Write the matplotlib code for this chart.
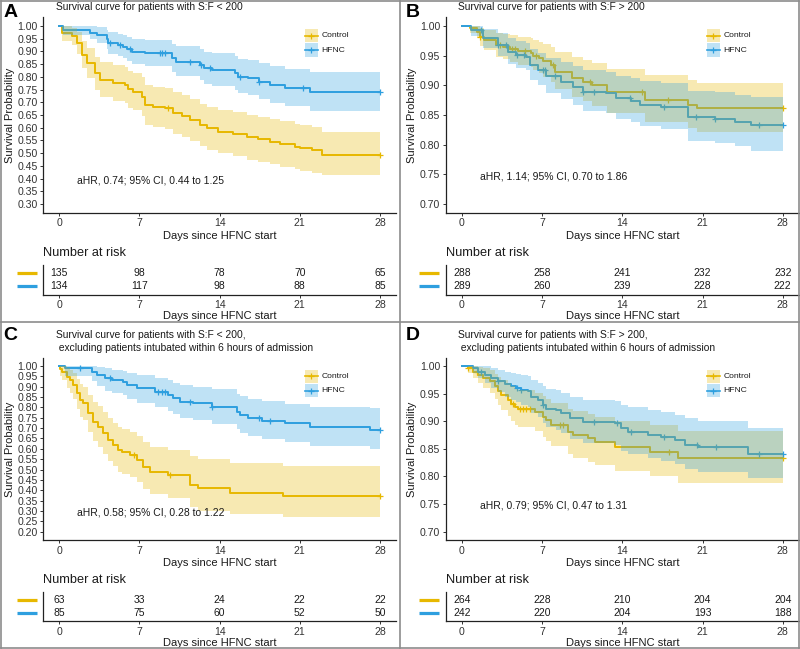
import numpy as np
import matplotlib
matplotlib.use('Agg')
import matplotlib.pyplot as plt
from matplotlib.lines import Line2D
from matplotlib.patches import Rectangle

plt.rcParams['font.family'] = ['Liberation Sans', 'DejaVu Sans']

# ---------------- data ----------------
days = [0, 7, 14, 21, 28]
groups = ['Control', 'HFNC']

# Panel A: S:F < 200
a_ctrl_t = [0, 0.2, 1.08, 1.51, 1.95, 2.39, 3.11, 3.55, 4.71, 5.73, 6.02, 6.46, 7.19, 7.48, 8.21, 9.23, 9.95,
            10.68, 11.41, 12.28, 12.86, 13.88, 15.19, 16.36, 17.37, 18.39, 19.27, 20.58, 21.01, 22.03, 22.9]
a_ctrl_s = [1, .971, .960, .932, .886, .853, .814, .788, .775, .768, .751, .742, .722, .689, .683, .676, .657,
            .646, .630, .611, .598, .585, .575, .562, .554, .545, .536, .526, .519, .512, .493]
a_ctrl_lo = [1, .942, .927, .890, .833, .794, .748, .719, .704, .697, .678, .668, .646, .611, .604, .596, .576,
             .564, .547, .527, .513, .499, .488, .474, .466, .456, .447, .436, .429, .421, .413]
a_ctrl_hi = [1, 1, .993, .975, .940, .913, .880, .858, .846, .840, .825, .817, .798, .768, .762, .756, .739,
             .728, .714, .695, .683, .671, .662, .650, .643, .634, .626, .616, .610, .603, .584]
a_ctrl_cens = [9.5, 28]

a_hfnc_t = [0, 0.35, 2.68, 3.26, 4.13, 4.28, 5.15, 5.59, 5.88, 6.32, 7.48, 9.8, 10.2, 12.3, 12.6, 13.3,
            15.3, 15.6, 16.5, 17.4, 18.4, 19.7, 21.9]
a_hfnc_s = [1, .984, .974, .965, .948, .932, .925, .918, .908, .899, .892, .873, .860, .847, .834, .827,
            .814, .801, .794, .781, .768, .755, .740]
a_hfnc_lo = [1, .963, .947, .934, .911, .891, .882, .873, .861, .850, .841, .818, .803, .788, .773, .765,
             .750, .736, .728, .714, .699, .685, .667]
a_hfnc_hi = [1, 1, 1, .996, .986, .975, .969, .964, .957, .950, .945, .931, .920, .910, .899, .893,
             .882, .871, .865, .854, .843, .832, .820]
a_hfnc_cens = [4.4, 5.3, 6.2, 8.8, 8.95, 9.2, 11.4, 12.4, 13.2, 15.8, 17.4, 21.3, 28]

# Panel B: S:F > 200
b_ctrl_t = [0, 0.7, 1.3, 1.6, 1.9, 3.0, 3.6, 4.2, 4.9, 6.0, 6.2, 6.7, 7.1, 7.8, 8.1, 9.6, 10.6, 11.4, 12.7, 16.0, 19.7, 20.5]
b_ctrl_s = [1, .996, .990, .982, .976, .968, .965, .962, .958, .955, .950, .946, .941, .934, .923, .912, .906, .900, .889, .876, .867, .862]
b_ctrl_lo = [1, .989, .979, .967, .959, .948, .944, .940, .935, .931, .925, .920, .914, .906, .893, .880, .873, .866, .853, .838, .828, .822]
b_ctrl_hi = [1, 1, 1, .997, .993, .988, .986, .984, .982, .980, .976, .973, .969, .964, .956, .947, .942, .937, .928, .917, .909, .904]
b_ctrl_cens = [1.6, 3.3, 4.4, 4.65, 5.5, 6.5, 8.0, 11.2, 15.7, 18.0, 28]

b_hfnc_t = [0, 0.84, 1.86, 3.17, 4.04, 4.77, 5.64, 5.93, 6.66, 7.39, 8.69, 9.71, 10.58, 12.62, 13.49, 14.8, 15.53, 17.42, 19.74, 22.07, 23.8, 25.27]
b_hfnc_s = [1, .993, .979, .968, .957, .951, .948, .934, .926, .915, .906, .898, .889, .887, .878, .874, .867, .863, .847, .844, .839, .833]
b_hfnc_lo = [1, .983, .963, .949, .936, .929, .925, .909, .900, .887, .877, .867, .857, .854, .844, .839, .831, .826, .807, .803, .797, .790]
b_hfnc_hi = [1, 1, .995, .988, .980, .975, .972, .962, .955, .946, .939, .932, .925, .923, .916, .913, .907, .904, .891, .888, .884, .880]
b_hfnc_cens = [1.7, 3.2, 3.9, 4.8, 5.4, 7.1, 7.3, 8.1, 10.6, 11.5, 14.7, 17.6, 20.4, 22.1, 25.9, 28]

# Panel C: S:F < 200, excluding early intubation
c_ctrl_t = [0, 0.1, 0.2, 0.64, 0.93, 1.22, 1.51, 1.8, 2.1, 2.53, 2.97, 3.4, 3.84, 4.28, 4.71, 5.15, 5.44, 6.17,
            6.75, 7.33, 7.92, 9.52, 11.41, 12.14, 14.9, 19.56]
c_ctrl_s = [1, .984, .973, .948, .932, .908, .868, .836, .820, .771, .731, .707, .675, .643, .618, .594, .586, .570,
            .546, .514, .490, .473, .425, .409, .388, .372]
c_ctrl_lo = [1, .950, .930, .895, .872, .842, .794, .756, .738, .682, .637, .611, .576, .541, .515, .490, .481, .464,
             .439, .406, .382, .364, .318, .302, .284, .270]
c_ctrl_hi = [1, 1, 1, .990, .980, .964, .935, .912, .899, .860, .827, .806, .778, .749, .727, .705, .698, .683,
             .662, .633, .611, .596, .565, .550, .530, .515]
c_ctrl_cens = [6.5, 9.7, 28]

c_hfnc_t = [0, 0.49, 2.82, 3.26, 3.99, 4.57, 5.59, 5.88, 6.75, 8.35, 9.52, 9.95, 10.54, 11.7, 13.3, 15.48, 15.77,
            16.5, 17.67, 19.7, 21.9, 27.1]
c_hfnc_s = [1, .988, .973, .957, .940, .932, .924, .908, .892, .876, .860, .844, .828, .820, .804, .779, .763,
            .747, .736, .723, .707, .693]
c_hfnc_lo = [1, .950, .927, .903, .880, .870, .860, .840, .822, .803, .785, .767, .749, .740, .722, .694, .677,
             .660, .648, .633, .615, .600]
c_hfnc_hi = [1, 1, 1, .995, .988, .983, .978, .967, .956, .944, .932, .920, .907, .900, .887, .867, .853,
             .839, .829, .818, .804, .797]
c_hfnc_cens = [1.8, 4.4, 8.64, 8.93, 9.2, 11.4, 13.3, 17.4, 18.4, 28]

# Panel D: S:F > 200, excluding early intubation
d_ctrl_t = [0, 0.55, 0.99, 1.42, 1.86, 2.44, 2.88, 3.17, 3.46, 4.04, 4.33, 4.62, 4.91, 6.37, 7.1, 7.39, 7.82,
            9.28, 9.71, 11.02, 11.6, 13.35, 16.4, 18.87]
d_ctrl_s = [1, .996, .990, .984, .978, .972, .963, .954, .947, .938, .932, .926, .922, .917, .908, .902, .893,
            .881, .875, .869, .863, .854, .845, .834]
d_ctrl_lo = [1, .988, .978, .969, .960, .952, .940, .929, .920, .909, .901, .894, .889, .883, .872, .865, .855,
             .841, .834, .827, .820, .810, .800, .789]
d_ctrl_hi = [1, 1, 1, .999, .996, .992, .986, .980, .975, .969, .964, .959, .956, .952, .945, .940, .933,
             .923, .918, .913, .908, .901, .893, .882]
d_ctrl_cens = [0.55, 1.3, 4.5, 5.06, 5.35, 5.64, 5.93, 8.55, 8.84, 18.1, 28]

d_hfnc_t = [0, 0.99, 1.42, 2.0, 2.59, 3.17, 3.75, 4.33, 4.77, 5.2, 5.79, 6.08, 6.66, 7.1, 7.39, 8.26, 8.69, 9.42,
            10.58, 13.35, 13.93, 14.51, 16.25, 17.42, 18.58, 19.45, 20.62, 25.0]
d_hfnc_s = [1, .996, .990, .984, .978, .973, .967, .963, .960, .957, .954, .944, .938, .929, .923, .920, .914, .905,
            .899, .896, .887, .881, .875, .871, .866, .857, .853, .841]
d_hfnc_lo = [1, .988, .978, .969, .960, .953, .944, .938, .934, .930, .926, .914, .907, .896, .889, .885, .878, .868,
             .861, .857, .847, .840, .833, .828, .823, .813, .808, .797]
d_hfnc_hi = [1, 1, 1, 1, .996, .993, .990, .987, .985, .983, .981, .974, .970, .963, .958, .956, .951, .944,
             .939, .937, .929, .925, .920, .917, .912, .905, .901, .887]
d_hfnc_cens = [1.7, 3.2, 4.8, 5.2, 7.1, 11.5, 13.5, 14.8, 17.6, 20.5, 22.2, 25.9, 28]

risk_a_ctrl = [135, 98, 78, 70, 65]
risk_a_hfnc = [134, 117, 98, 88, 85]
risk_b_ctrl = [288, 258, 241, 232, 232]
risk_b_hfnc = [289, 260, 239, 228, 222]
risk_c_ctrl = [63, 33, 24, 22, 22]
risk_c_hfnc = [85, 75, 60, 52, 50]
risk_d_ctrl = [264, 228, 210, 204, 204]
risk_d_hfnc = [242, 220, 204, 193, 188]

titles = ['Survival curve for patients with S:F < 200',
          'Survival curve for patients with S:F > 200',
          'Survival curve for patients with S:F < 200,\n excluding patients intubated within 6 hours of admission',
          'Survival curve for patients with S:F > 200,\n excluding patients intubated within 6 hours of admission']
hr_texts = ['aHR, 0.74; 95% CI, 0.44 to 1.25', 'aHR, 1.14; 95% CI, 0.70 to 1.86',
            'aHR, 0.58; 95% CI, 0.28 to 1.22', 'aHR, 0.79; 95% CI, 0.47 to 1.31']
letters = ['A', 'B', 'C', 'D']

# ---------------- styling ----------------
COL = {'Control': '#E7B800', 'HFNC': '#2E9FDF'}
W, H = 800, 649
fig = plt.figure(figsize=(8, 6.49), dpi=100)
TXT = '#1a1a1a'
TICKC = '#333333'
FS_TICK = 7.6
FS_LAB = 8.0


def rect(l, t, r, b):
    return [l / W, 1 - b / H, (r - l) / W, (b - t) / H]


def fx(x):
    return x / W


def fy(y):
    return 1 - y / H


def draw_curve(ax, t, s, lo, hi, cens, color):
    t = np.asarray(t, float)
    s = np.asarray(s, float)
    t2 = np.append(t, 28.0)
    s2 = np.append(s, s[-1])
    lo2 = np.append(lo, lo[-1])
    hi2 = np.append(hi, hi[-1])
    ax.step(t2, s2, where='post', color=color, lw=1.4, zorder=2)
    idx = np.searchsorted(t, cens, side='right') - 1
    ax.plot(cens, s[idx], ls='none', marker='+', ms=5, mew=0.9, color=color, zorder=2)
    ax.fill_between(t2, lo2, hi2, step='post', color=color, alpha=0.3, lw=0, zorder=3)


def style_axes(ax):
    for sp in ['top', 'right']:
        ax.spines[sp].set_visible(False)
    for sp in ['left', 'bottom']:
        ax.spines[sp].set_linewidth(0.9)
        ax.spines[sp].set_color('#222222')
    ax.tick_params(axis='both', labelsize=FS_TICK, colors=TICKC, length=2.5, width=0.7, pad=1.5)
    ax.set_facecolor('none')


panels = [
    dict(l=43.3, r=396, t=17.1, b=212.9, tb_t=265, tb_b=294.5, ylim=(0.30, 1.00),
         ctrl=(a_ctrl_t, a_ctrl_s, a_ctrl_lo, a_ctrl_hi, a_ctrl_cens),
         hfnc=(a_hfnc_t, a_hfnc_s, a_hfnc_lo, a_hfnc_hi, a_hfnc_cens),
         risk=(risk_a_ctrl, risk_a_hfnc), hr_y=0.393, ox=0, oy=0),
    dict(l=445.7, r=798.8, t=17.1, b=212.9, tb_t=265, tb_b=294.5, ylim=(0.70, 1.00),
         ctrl=(b_ctrl_t, b_ctrl_s, b_ctrl_lo, b_ctrl_hi, b_ctrl_cens),
         hfnc=(b_hfnc_t, b_hfnc_s, b_hfnc_lo, b_hfnc_hi, b_hfnc_cens),
         risk=(risk_b_ctrl, risk_b_hfnc), hr_y=0.746, ox=402, oy=0),
    dict(l=43.3, r=396, t=357.7, b=540, tb_t=591.7, tb_b=621, ylim=(0.20, 1.00),
         ctrl=(c_ctrl_t, c_ctrl_s, c_ctrl_lo, c_ctrl_hi, c_ctrl_cens),
         hfnc=(c_hfnc_t, c_hfnc_s, c_hfnc_lo, c_hfnc_hi, c_hfnc_cens),
         risk=(risk_c_ctrl, risk_c_hfnc), hr_y=0.293, ox=0, oy=323.5),
    dict(l=445.7, r=798.8, t=357.7, b=540, tb_t=591.7, tb_b=621, ylim=(0.70, 1.00),
         ctrl=(d_ctrl_t, d_ctrl_s, d_ctrl_lo, d_ctrl_hi, d_ctrl_cens),
         hfnc=(d_hfnc_t, d_hfnc_s, d_hfnc_lo, d_hfnc_hi, d_hfnc_cens),
         risk=(risk_d_ctrl, risk_d_hfnc), hr_y=0.747, ox=402, oy=323.5),
]

xlo, xhi = -1.4, 29.4

for i, p in enumerate(panels):
    ax = fig.add_axes(rect(p['l'], p['t'], p['r'], p['b']))
    y0, y1 = p['ylim']
    pad = (y1 - y0) * 0.05
    ax.set_xlim(xlo, xhi)
    ax.set_ylim(y0 - pad, y1 + pad)
    draw_curve(ax, *p['ctrl'], COL['Control'])
    draw_curve(ax, *p['hfnc'], COL['HFNC'])
    yt = np.round(np.arange(y0, y1 + 1e-9, 0.05), 2)
    ax.set_yticks(yt)
    ax.set_yticklabels(['%.2f' % v for v in yt])
    ax.set_xticks(days)
    ax.set_xticklabels([str(d) for d in days])
    style_axes(ax)
    ax.set_ylabel('Survival Probability', fontsize=FS_LAB, color=TXT, labelpad=2)
    ax.set_xlabel('Days since HFNC start', fontsize=FS_LAB, color=TXT, labelpad=1.5)
    ax.text(8, p['hr_y'], hr_texts[i], ha='center', va='center', fontsize=7.5, color=TXT)

    # legend (inside top-right)
    ox, oy = p['ox'], p['oy']
    kx0 = 305 + ox
    for j, g in enumerate(groups):
        ky = p['t'] + 18.6 + 14.3 * j
        fig.add_artist(Rectangle((fx(kx0), fy(ky + 6.5)), 12.5 / W, 13 / H, transform=fig.transFigure,
                                 facecolor=COL[g], alpha=0.3, edgecolor='none'))
        fig.add_artist(Line2D([fx(kx0), fx(kx0 + 12.5)], [fy(ky), fy(ky)], transform=fig.transFigure,
                              color=COL[g], lw=1.2))
        fig.add_artist(Line2D([fx(kx0 + 6.25)], [fy(ky)], transform=fig.transFigure, color=COL[g],
                              marker='+', ms=5, mew=0.9, ls='none'))
        fig.text(fx(kx0 + 16.5), fy(ky), g, fontsize=6.1, color=TXT, va='center', ha='left')

    # title + letter
    two = '\n' in titles[i]
    fig.text(fx(56.5 + ox), fy(p['t'] - (16.5 if two else 10.2)), titles[i],
             fontsize=7.4, color=TXT, ha='left', va='center', linespacing=1.4)
    fig.text(fx(3.5 + ox), fy(16.7 + oy), letters[i], fontsize=14, fontweight='bold',
             color='black', ha='left', va='baseline')

    # risk table
    tb = fig.add_axes(rect(p['l'], p['tb_t'], p['r'], p['tb_b']))
    tb.set_xlim(xlo, xhi)
    tb.set_ylim(2.6, 0.4)
    rc, rh = p['risk']
    for d, v in zip(days, rc):
        tb.text(d, 1, str(v), ha='center', va='center', fontsize=7.5, color=TXT)
    for d, v in zip(days, rh):
        tb.text(d, 2, str(v), ha='center', va='center', fontsize=7.5, color=TXT)
    tb.set_yticks([])
    tb.set_xticks(days)
    tb.set_xticklabels([str(d) for d in days])
    style_axes(tb)
    tb.set_xlabel('Days since HFNC start', fontsize=FS_LAB, color=TXT, labelpad=1.0)
    for j, g in enumerate(groups):
        yrow = p['tb_t'] + (j + 1 - 0.4) / 2.2 * (p['tb_b'] - p['tb_t'])
        fig.add_artist(Line2D([fx(16.7 + ox), fx(37.3 + ox)], [fy(yrow), fy(yrow)],
                              transform=fig.transFigure, color=COL[g], lw=2.3, solid_capstyle='butt'))
    fig.text(fx(p['l']), fy(p['tb_t'] - 12), 'Number at risk', fontsize=9.2, color=TXT,
             ha='left', va='center')

# panel borders
bc = '#8c8c8c'
for xs, ys in [([0.8, 799.2], [0.8, 0.8]), ([0.8, 799.2], [648.2, 648.2]),
               ([0.8, 0.8], [0.8, 648.2]), ([799.2, 799.2], [0.8, 648.2]),
               ([400, 400], [0.8, 648.2]), ([0.8, 799.2], [322, 322])]:
    fig.add_artist(Line2D([fx(v) for v in xs], [fy(v) for v in ys], transform=fig.transFigure,
                          color=bc, lw=1.2))

fig.savefig('out.png', dpi=100)
